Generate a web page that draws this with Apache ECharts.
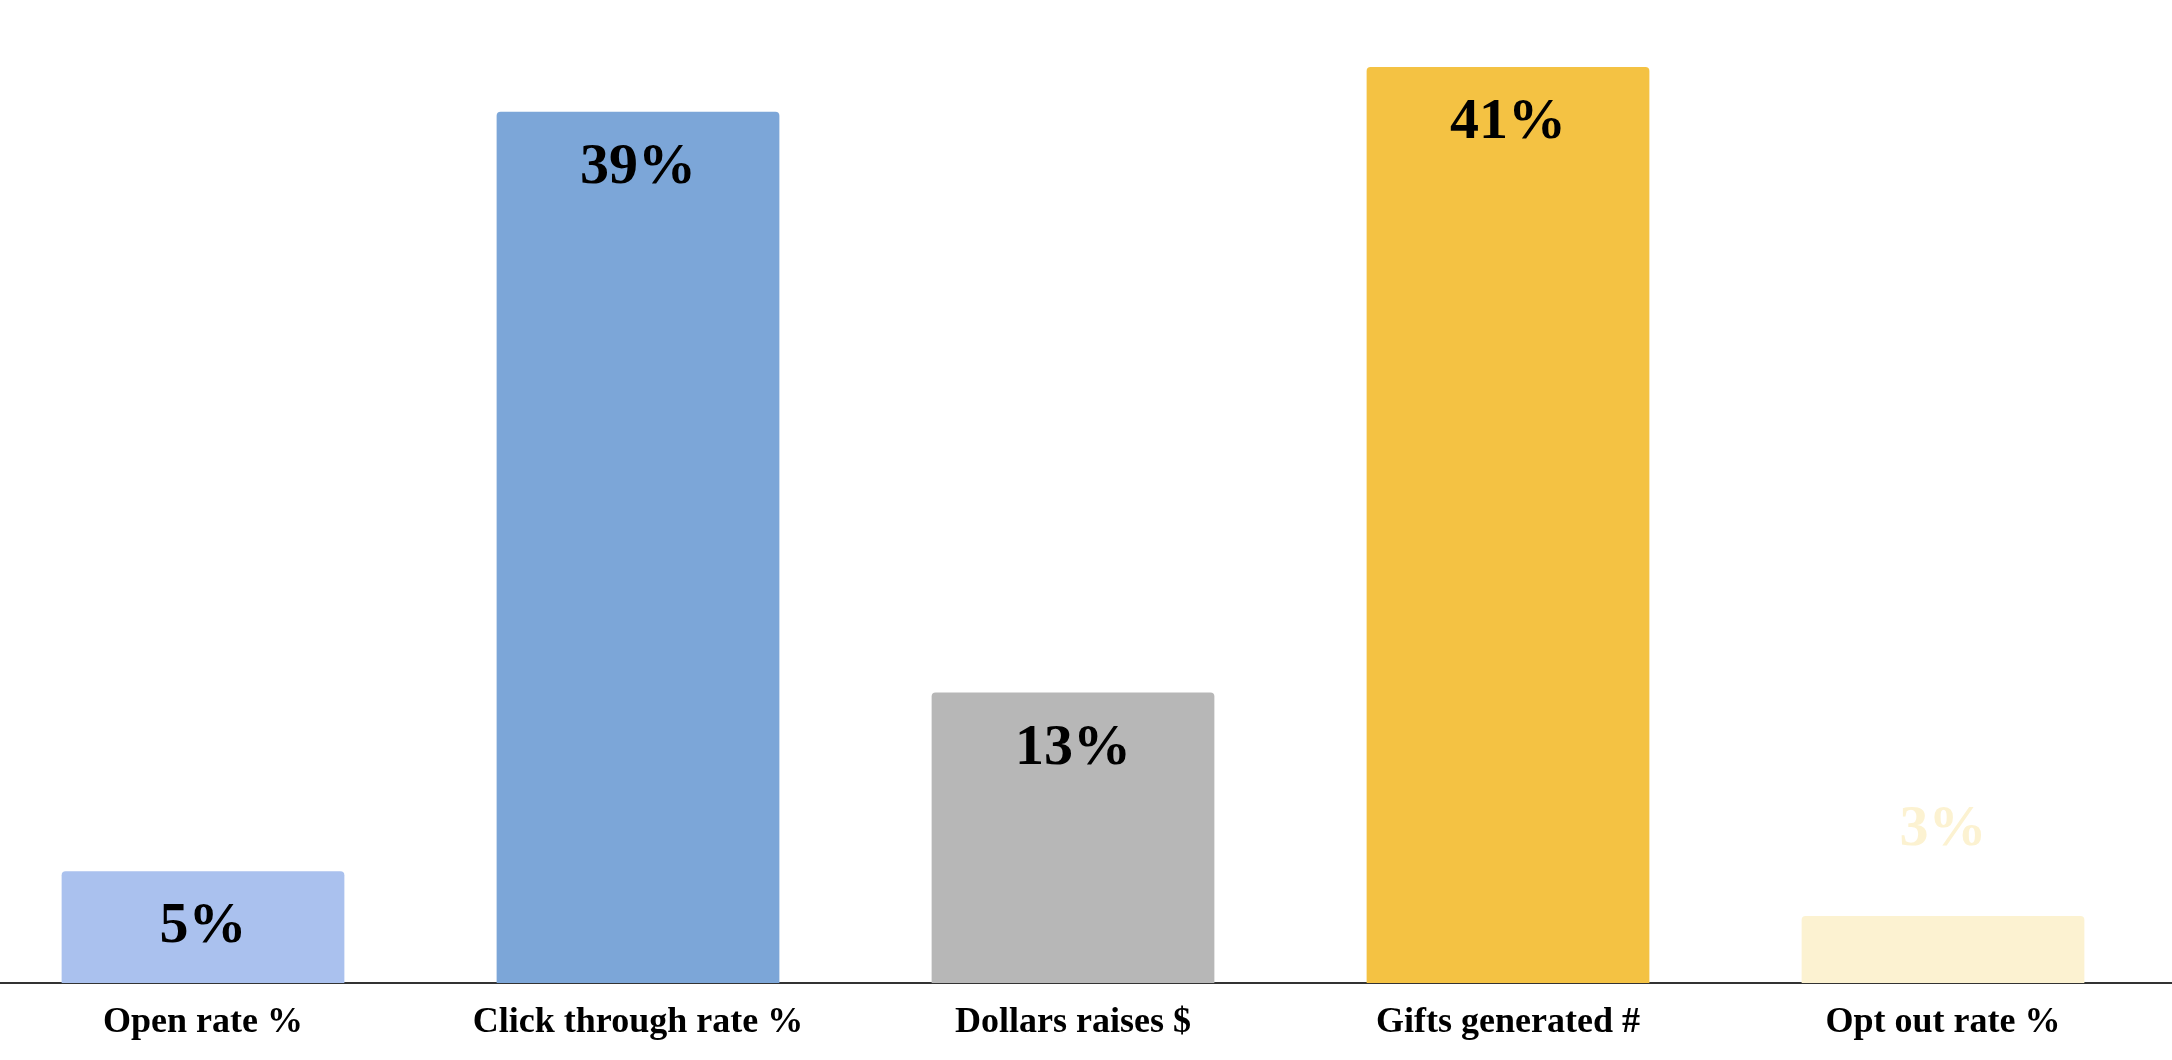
<!DOCTYPE html>
<html>
<head>
<meta charset="utf-8">
<script src="https://cdn.jsdelivr.net/npm/echarts@6/dist/echarts.min.js"></script>
<style>
html,body{margin:0;padding:0;background:#fff;}
#chart{width:2172px;height:1060px;}
</style>
</head>
<body>
<div id="chart"></div>
<script>
const categories = ['Open rate %', 'Click through rate %', 'Dollars raises $', 'Gifts generated #', 'Opt out rate %'];
const values = [5, 39, 13, 41, 3];
const barColors = ['#AAC1EE', '#7CA6D8', '#B7B7B7', '#F4C243', '#FCF2D1'];
const labelColors = ['#000000', '#000000', '#000000', '#000000', '#FCF2D1'];
const labelOutside = [false, false, false, false, true];

const FONT = '"Liberation Serif", "Times New Roman", serif';

const data = values.map((v, i) => ({
  value: v,
  itemStyle: { color: barColors[i] },
  label: labelOutside[i]
    ? { position: 'top', distance: 57, color: labelColors[i] }
    : { position: 'insideTop', distance: 27, color: labelColors[i] }
}));

const chart = echarts.init(document.getElementById('chart'), null, { renderer: 'canvas' });
chart.setOption({
  backgroundColor: '#ffffff',
  animation: false,
  grid: [
    { left: -14.5, right: 11.5, top: 0, bottom: 77, containLabel: false, outerBoundsMode: 'none' },
    { left: 0, right: 0, top: 0, bottom: 77, containLabel: false, outerBoundsMode: 'none' }
  ],
  xAxis: [
    {
      type: 'category',
      gridIndex: 0,
      data: categories,
      axisLine: { show: false },
      axisTick: { show: false },
      axisLabel: {
        interval: 0,
        margin: 22,
        fontFamily: FONT,
        fontSize: 36,
        fontWeight: 'bold',
        color: '#000'
      }
    },
    {
      type: 'value',
      gridIndex: 1,
      min: 0,
      max: 1,
      axisLine: { show: true, lineStyle: { color: '#333333', width: 2 } },
      axisTick: { show: false },
      axisLabel: { show: false },
      splitLine: { show: false }
    }
  ],
  yAxis: [
    { type: 'value', gridIndex: 0, min: 0, max: 44, show: false, splitLine: { show: false } },
    { type: 'value', gridIndex: 1, min: 0, max: 1, show: false, splitLine: { show: false } }
  ],
  series: [
    {
      type: 'bar',
      xAxisIndex: 0,
      yAxisIndex: 0,
      barWidth: '65%',
      data: data,
      itemStyle: { borderRadius: [4, 4, 0, 0] },
      label: {
        show: true,
        formatter: '{c}%',
        fontFamily: FONT,
        fontSize: 58,
        fontWeight: 'bold'
      },
      z: 3
    }
  ]
});
</script>
</body>
</html>
